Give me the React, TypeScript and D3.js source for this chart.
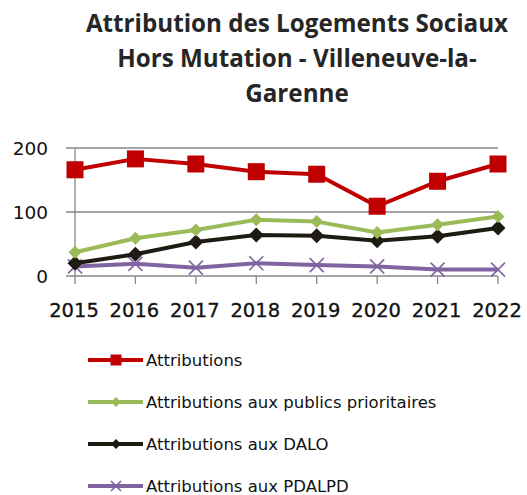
import React from "react";
import * as d3 from "d3";

const years = ["2015", "2016", "2017", "2018", "2019", "2020", "2021", "2022"];
const attributions = [166, 183, 175, 163, 159, 109, 148, 175];
const prioritaires = [37, 59, 72, 88, 85, 68, 80, 93];
const dalo = [20, 34, 53, 64, 63, 55, 62, 75];
const pdalpd = [15, 19, 13, 20, 17, 15, 10, 10];
const yTicks = [0, 100, 200];
const titleLines = [
  "Attribution des Logements Sociaux",
  "Hors Mutation - Villeneuve-la-",
  "Garenne",
];

type Marker = "square" | "diamond" | "x";
const series: { name: string; values: number[]; color: string; marker: Marker; size: number }[] = [
  { name: "Attributions", values: attributions, color: "#C00000", marker: "square", size: 17 },
  { name: "Attributions aux publics prioritaires", values: prioritaires, color: "#9BBB59", marker: "diamond", size: 13 },
  { name: "Attributions aux DALO", values: dalo, color: "#1E1C12", marker: "diamond", size: 15 },
  { name: "Attributions aux PDALPD", values: pdalpd, color: "#8064A2", marker: "x", size: 14 },
];

const W = 527;
const H = 495;
const plot = { left: 75, right: 498, top: 148, bottom: 276 };

function MarkerShape({ type, x, y, size, color }: { type: Marker; x: number; y: number; size: number; color: string }) {
  const h = size / 2;
  if (type === "square") {
    return <rect x={x - h} y={y - h} width={size} height={size} fill={color} />;
  }
  if (type === "diamond") {
    return <path d={`M${x},${y - h}L${x + h},${y}L${x},${y + h}L${x - h},${y}Z`} fill={color} />;
  }
  return (
    <path
      d={`M${x - h},${y - h}L${x + h},${y + h}M${x - h},${y + h}L${x + h},${y - h}`}
      stroke={color}
      strokeWidth={1.6}
      fill="none"
    />
  );
}

export default function App() {
  const x = d3.scalePoint<string>().domain(years).range([plot.left, plot.right]);
  const y = d3.scaleLinear().domain([0, 200]).range([plot.bottom, plot.top]);
  const line = d3
    .line<number>()
    .x((_, i) => x(years[i]) as number)
    .y((d) => y(d));

  const font = "'DejaVu Sans', Verdana, sans-serif";

  return (
    <svg
      width={W}
      height={H}
      style={{ position: "absolute", left: 0, top: 0, background: "#fff" }}
    >
      {titleLines.map((t, i) => (
        <text
          key={i}
          x={297}
          y={32 + i * 35}
          textAnchor="middle"
          fontFamily="'Open Sans', Lato, sans-serif"
          fontWeight="bold"
          fontSize={24.2}
          fill="#262626"
        >
          {t}
        </text>
      ))}

      {/* gridlines */}
      {yTicks.map((t) => (
        <line
          key={t}
          x1={plot.left - 9}
          x2={plot.right}
          y1={y(t)}
          y2={y(t)}
          stroke="#878787"
          strokeWidth={1.3}
        />
      ))}
      {/* y axis */}
      <line x1={plot.left} x2={plot.left} y1={plot.top} y2={plot.bottom} stroke="#878787" strokeWidth={1.3} />
      {/* x ticks */}
      {years.map((yr) => (
        <line
          key={yr}
          x1={x(yr)}
          x2={x(yr)}
          y1={plot.bottom}
          y2={plot.bottom + 8}
          stroke="#878787"
          strokeWidth={1.3}
        />
      ))}

      {yTicks.map((t) => (
        <text
          key={t}
          x={48}
          y={y(t)}
          dy="0.36em"
          textAnchor="end"
          fontFamily={font}
          fontSize={18.5}
          fill="#111"
        >
          {t}
        </text>
      ))}
      {years.map((yr) => (
        <text
          key={yr}
          x={(x(yr) as number) - 1}
          y={317}
          textAnchor="middle"
          fontFamily={font}
          fontSize={19.5}
          fill="#111"
          stroke="#111"
          strokeWidth={0.3}
        >
          {yr}
        </text>
      ))}

      {[...series].reverse().map((s) => (
        <g key={s.name}>
          <path d={line(s.values) || ""} fill="none" stroke={s.color} strokeWidth={4} strokeLinejoin="round" />
          {s.values.map((v, i) => (
            <MarkerShape key={i} type={s.marker} x={x(years[i]) as number} y={y(v)} size={s.size} color={s.color} />
          ))}
        </g>
      ))}

      {/* legend */}
      {series.map((s, i) => {
        const ly = 360 + i * 42;
        return (
          <g key={s.name}>
            <line x1={88} x2={143} y1={ly} y2={ly} stroke={s.color} strokeWidth={4} />
            <MarkerShape type={s.marker} x={116} y={ly} size={s.marker === "square" ? 11 : 10} color={s.color} />
            <text x={146} y={ly} dy="0.36em" fontFamily={font} fontSize={16.5} fill="#111">
              {s.name}
            </text>
          </g>
        );
      })}
    </svg>
  );
}
